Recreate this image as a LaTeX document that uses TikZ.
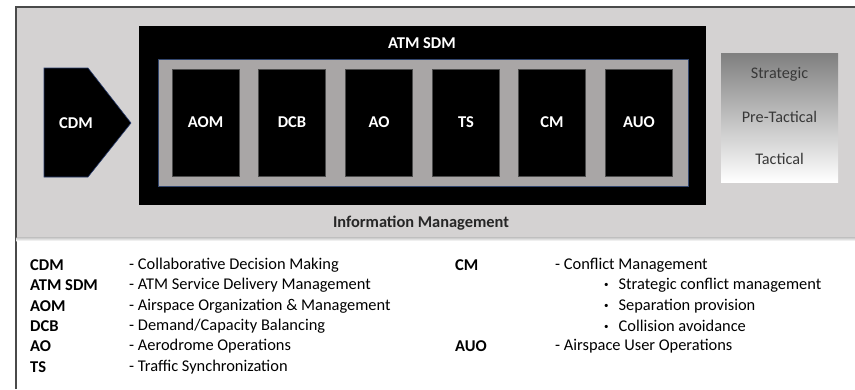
\documentclass[tikz,border=0pt]{standalone}
\usepackage{fontspec}
\setmainfont{Carlito}
\begin{document}
\begin{tikzpicture}[x=1pt,y=-1pt,
  modbox/.style={fill=black,draw=gray!60!black,line width=0.6pt},
  modlabel/.style={text=white,font=\bfseries\fontsize{16.5}{18}\selectfont},
  abbr/.style={anchor=west,font=\bfseries\fontsize{16.5}{18}\selectfont,inner sep=0pt},
  desc/.style={anchor=west,font=\fontsize{16.4}{18}\selectfont,inner sep=0pt},
  phase/.style={text=black!78,font=\fontsize{16.2}{18}\selectfont}]
\useasboundingbox (0,0) rectangle (855,389);
\definecolor{bggray}{HTML}{D4D2D2}
\definecolor{midgray}{HTML}{A9A6A6}
\definecolor{framegray}{HTML}{4A4A4A}
% frame
\fill[bggray] (16,7) rectangle (855,237);
\draw[framegray,line width=1.2pt] (16,389) -- (16,7) -- (855,7);
\shade[top color=black!25,bottom color=white] (16.6,237) rectangle (855,241);
% CDM pentagon
\draw[fill=black,draw={rgb,255:red,40;green,60;blue,110},line width=0.6pt]
  (44,68) -- (88,68) -- (131,123) -- (88,177) -- (44,177) -- cycle;
\node[modlabel] (cdm) at (76,123) {CDM};
% ATM SDM box
\node[fill=black,minimum width=567pt,minimum height=179pt,inner sep=0pt] (sdm) at (422.5,115.5) {};
\node[modlabel] (sdmt) at (422,43) {ATM SDM};
\node[fill=midgray,draw={rgb,255:red,50;green,70;blue,110},line width=0.6pt,minimum width=530pt,minimum height=127pt,inner sep=0pt] (inner) at (423,122.5) {};
% modules
\foreach \n/\x in {AOM/205.5,DCB/292,AO/379,TS/466,CM/552,AUO/639}{
  \node[modbox,minimum width=67pt,minimum height=107pt,inner sep=0pt] (box\n) at (\x,122.5) {};
  \node[modlabel] (lab\n) at (box\n) {\n};
}
\node[font=\fontsize{16.4}{18}\selectfont\bfseries,text=black!85] (im) at (421,223) {Information Management};
% phases
\shade[top color=black!50,bottom color=white] (721,53) rectangle (838,182);
\node[inner sep=0pt,minimum width=117pt,minimum height=129pt] (phases) at (779.5,117.5) {};
\node[phase] (strat) at (779.5,74) {Strategic};
\node[phase] (pre) at (779.5,117) {Pre-Tactical};
\node[phase] (tact) at (779.5,159) {Tactical};
% legend left
\foreach \a/\d/\y/\k in {CDM/{Collaborative Decision Making}/265/1,
  ATM SDM/{ATM Service Delivery Management}/285.5/2,
  AOM/{Airspace Organization \& Management}/306/3,
  DCB/{Demand/Capacity Balancing}/326/4,
  AO/{Aerodrome Operations}/346/5,
  TS/{Traffic Synchronization}/367/6}{
  \node[abbr] (la\k) at (30,\y) {\a};
  \node[desc] (ld\k) at (129,\y) {- \d};
}
% legend right
\node[abbr] (lcm) at (455,265) {CM};
\node[desc] (lcmd) at (555,265) {- Conflict Management};
\foreach \t/\y/\k in {{Strategic conflict management}/285.5/1,{Separation provision}/306/2,{Collision avoidance}/326/3}{
  \node[desc] (b\k) at (604,\y) {\raisebox{2pt}{\fontsize{9}{9}\selectfont\textbullet}\hspace{10pt}\t};
}
\node[abbr] (lauo) at (455,346) {AUO};
\node[desc] (lauod) at (555,346) {- Airspace User Operations};
\end{tikzpicture}
\end{document}
